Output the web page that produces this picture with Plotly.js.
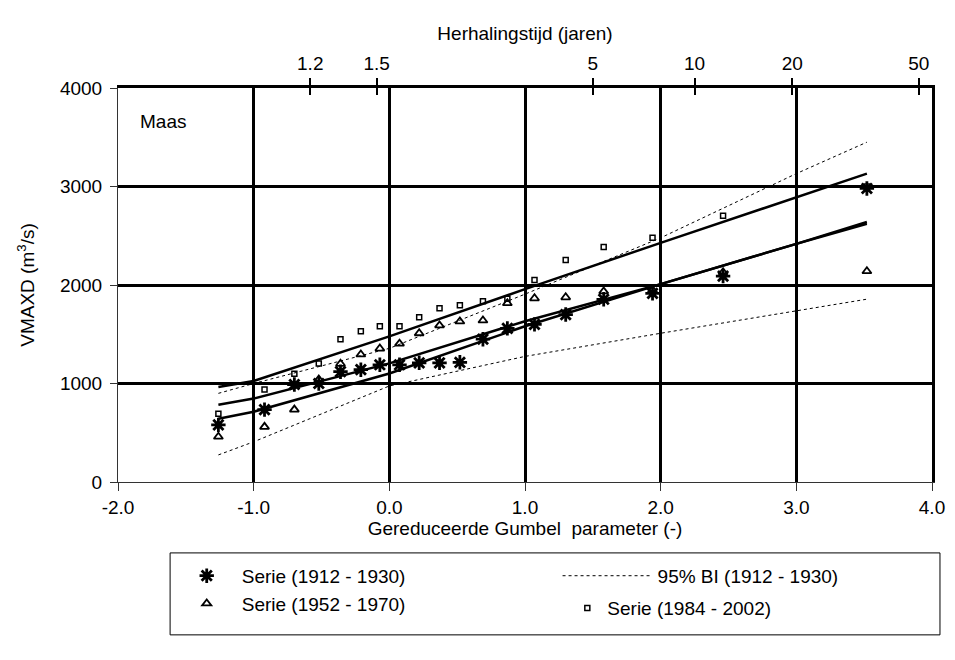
<!DOCTYPE html>
<html>
<head>
<meta charset="utf-8">
<script src="https://cdn.plot.ly/plotly-3.0.1.min.js"></script>
<style>html,body{margin:0;padding:0;background:#fff;}#chart{width:955px;height:660px;}</style>
</head>
<body>
<div id="chart"></div>
<script>
// Plotting positions (reduced Gumbel variate) of the 19 ranked annual maxima
const gumbelX = [-1.26,-0.92,-0.70,-0.52,-0.36,-0.21,-0.07,0.075,0.22,0.37,0.52,0.69,0.87,1.07,1.30,1.58,1.94,2.46,3.52];
const serie1912 = [580,735,990,1000,1120,1140,1190,1190,1210,1210,1215,1450,1560,1600,1700,1855,1915,2090,2980];
const serie1952 = [460,560,735,1040,1200,1295,1355,1405,1510,1590,1630,1640,1815,1865,1875,1935,1950,2130,2140];
const serie1984 = [694,938,1100,1204,1448,1530,1581,1581,1673,1765,1795,1836,1860,2050,2254,2387,2479,2703,3000];

// Fitted lines and 95% confidence band
const fitX = [-1.26,-1.0,0,1,2,3,3.52];
const fit1984 = [965,1025,1479,1958,2428,2887,3131];
const fit1952 = [785,847,1204,1632,2009,2418,2640];
const fit1912 = [643,714,1102,1581,2009,2418,2622];
const ciUpper = [900,1000,1357,1907,2479,3131,3450];
const ciLower = [275,408,975,1275,1510,1734,1856];

// Top axis: return periods (years) and their reduced variates
const returnPeriods = ['1.2','1.5','5','10','20','50'];
const returnPeriodX = [-0.583,-0.094,1.500,2.250,2.970,3.902];

const xTicks = [-2,-1,0,1,2,3,4];
const xTickText = ['-2.0','-1.0','0.0','1.0','2.0','3.0','4.0'];
const xGrid = [-1,0,1,2,3];
const yTicks = [0,1000,2000,3000,4000];
const yGrid = [1000,2000,3000];

const FONT = 'Liberation Sans, Arial, sans-serif';
const FS = 19;

const traces = [
  {x: fitX, y: fit1984, mode:'lines', line:{color:'#000', width:2.5}, showlegend:false, hoverinfo:'skip'},
  {x: fitX, y: fit1952, mode:'lines', line:{color:'#000', width:2.5}, showlegend:false, hoverinfo:'skip'},
  {x: fitX, y: fit1912, mode:'lines', line:{color:'#000', width:2.5}, showlegend:false, hoverinfo:'skip'},
  {x: gumbelX, y: serie1912, mode:'markers', name:'Serie (1912 - 1930)', legend:'legend', legendgroup:'a', legendrank:1,
   marker:{symbol:'asterisk-open', size:12, color:'#000', line:{color:'#000', width:2.8}}},
  {x: gumbelX, y: serie1952, mode:'markers', name:'Serie (1952 - 1970)', legend:'legend', legendgroup:'b', legendrank:2,
   marker:{symbol:'triangle-up-open', size:8, color:'#000', line:{color:'#000', width:1.8}}},
  {x: fitX, y: ciUpper, mode:'lines', name:'95% BI (1912 - 1930)', legend:'legend2', legendgroup:'bi',
   line:{color:'#000', width:1, dash:'3px,3px'}},
  {x: fitX, y: ciLower, mode:'lines', showlegend:false, legend:'legend2', legendgroup:'bi',
   line:{color:'#000', width:1, dash:'3px,3px'}},
  {x: gumbelX, y: serie1984, mode:'markers', name:'Serie (1984 - 2002)', legend:'legend3',
   marker:{symbol:'square-open', size:5, color:'#000', line:{color:'#000', width:1.5}}},
  // helper traces to activate overlay axes
  {x:[0], y:[0], xaxis:'x2', yaxis:'y', mode:'markers', marker:{opacity:0}, showlegend:false, hoverinfo:'skip'},
  {x:[0], y:[0], xaxis:'x3', yaxis:'y3', mode:'markers', marker:{opacity:0}, showlegend:false, hoverinfo:'skip'},
  {x:[0], y:[0], xaxis:'x4', yaxis:'y', mode:'markers', marker:{opacity:0}, showlegend:false, hoverinfo:'skip'},
  {x:[0], y:[0], xaxis:'x', yaxis:'y2', mode:'markers', marker:{opacity:0}, showlegend:false, hoverinfo:'skip'}
];

const legendBase = {
  orientation:'v', yanchor:'top', xanchor:'left', bgcolor:'rgba(0,0,0,0)', borderwidth:0,
  font:{family:FONT, size:FS, color:'#000'}, tracegroupgap:8, traceorder:'normal'
};

const layout = {
  width:955, height:660,
  margin:{l:118, r:23, t:88, b:178},
  paper_bgcolor:'#fff', plot_bgcolor:'#fff',
  font:{family:FONT, size:FS, color:'#000'},
  showlegend:true,
  hovermode:false,
  xaxis:{
    range:[-2,4], tickvals:xTicks, ticktext:xTickText,
    showgrid:false, zeroline:false, showline:true, linecolor:'#333', linewidth:1,
    ticks:'outside', ticklen:8, tickcolor:'#333', tickwidth:1,
    tickfont:{family:FONT, size:FS, color:'#000'},
    title:{text:'Gereduceerde Gumbel  parameter (-)', font:{family:FONT, size:FS}, standoff:4}
  },
  yaxis:{
    range:[0,4000], tickvals:yTicks,
    showgrid:false, zeroline:false, showline:true, linecolor:'#333', linewidth:1,
    ticks:'outside', ticklen:7, tickcolor:'#333', tickwidth:1, ticklabelstandoff:4,
    tickfont:{family:FONT, size:FS, color:'#000'},
    title:{text:'VMAXD (m<sup>3</sup>/s)', font:{family:FONT, size:FS}, standoff:20}
  },
  xaxis2:{
    overlaying:'x', side:'top', anchor:'y', range:[-2,4],
    tickvals:returnPeriodX, ticktext:returnPeriods,
    showgrid:false, zeroline:false, showline:true, linecolor:'#000', linewidth:3,
    ticks:'outside', ticklen:7, tickwidth:2, tickcolor:'#000',
    tickfont:{family:FONT, size:FS, color:'#000'},
    title:{text:'Herhalingstijd (jaren)', font:{family:FONT, size:FS}, standoff:8}
  },
  xaxis4:{
    overlaying:'x', side:'top', anchor:'y', range:[-2,4],
    tickvals:returnPeriodX, showticklabels:false,
    showgrid:false, zeroline:false, showline:false,
    ticks:'inside', ticklen:7, tickwidth:2, tickcolor:'#000'
  },
  xaxis3:{
    overlaying:'x', range:[-2,4], anchor:'y3', tickvals:xGrid, showticklabels:false,
    showgrid:true, gridcolor:'#000', gridwidth:3, zeroline:false, showline:false, ticks:''
  },
  yaxis3:{
    overlaying:'y', range:[0,4000], anchor:'x3', tickvals:yGrid, showticklabels:false,
    showgrid:true, gridcolor:'#000', gridwidth:3, zeroline:false, showline:false, ticks:''
  },
  yaxis2:{
    overlaying:'y', side:'right', anchor:'x', range:[0,4000],
    showticklabels:false, ticks:'', showgrid:false, zeroline:false,
    showline:true, linecolor:'#000', linewidth:3
  },
  legend: Object.assign({}, legendBase, {x:0.066, y:-0.19, itemwidth:60}),
  legend2: Object.assign({}, legendBase, {x:0.540, y:-0.19, itemwidth:90}),
  legend3: Object.assign({}, legendBase, {x:0.552, y:-0.272, itemwidth:30}),
  shapes:[
    {type:'rect', xref:'paper', yref:'paper', x0:0.064, x1:1.0098, y0:-0.180, y1:-0.388,
     line:{color:'#000', width:1}, fillcolor:'rgba(0,0,0,0)', layer:'below'}
  ],
  annotations:[
    {text:'Maas', xref:'paper', yref:'paper', x:0.024, y:0.914, xanchor:'left', yanchor:'middle',
     showarrow:false, font:{family:FONT, size:FS, color:'#000'}}
  ]
};

Plotly.newPlot('chart', traces, layout, {staticPlot:true, displayModeBar:false});
</script>
</body>
</html>
